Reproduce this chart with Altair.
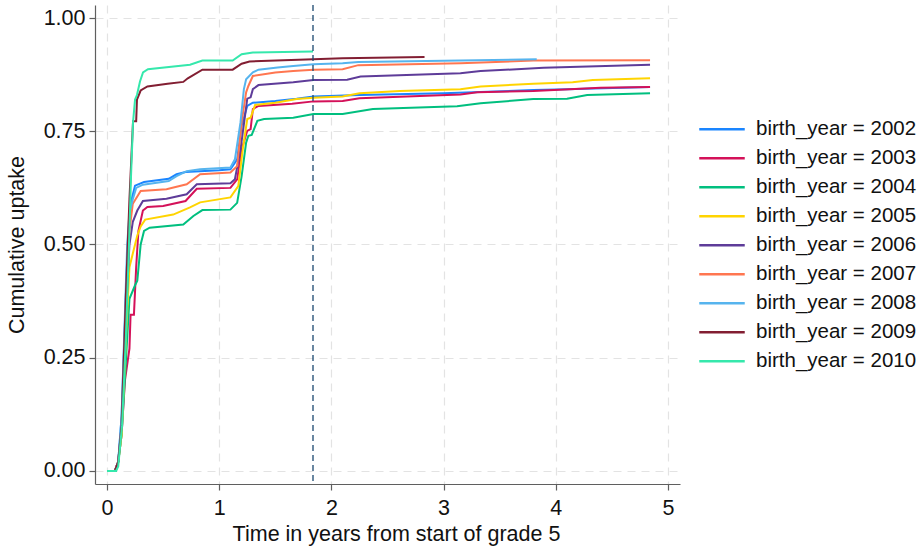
import altair as alt
import pandas as pd

years = [2002, 2003, 2004, 2005, 2006, 2007, 2008, 2009, 2010]
colors = ["#1a85ff", "#d41159", "#00bf7f", "#ffd400", "#5e3c99",
          "#ff7650", "#56b4ee", "#821e32", "#35e8ac"]

t_2002 = [0, 0.07, 0.10, 0.13, 0.16, 0.18, 0.20, 0.22, 0.25, 0.33, 0.55, 0.62, 0.70, 1.00, 1.10,
          1.16, 1.20, 1.25, 1.30, 1.50, 1.69, 1.84, 2.25, 3.00, 3.80, 4.10, 4.84]
u_2002 = [0, 0, 0.02, 0.12, 0.33, 0.47, 0.56, 0.60, 0.630, 0.638, 0.645, 0.655, 0.660, 0.664, 0.666,
          0.688, 0.762, 0.806, 0.813, 0.817, 0.822, 0.827, 0.830, 0.834, 0.841, 0.843, 0.848]

t_2003 = [0, 0.07, 0.10, 0.13, 0.16, 0.20, 0.21, 0.24, 0.26, 0.28, 0.32, 0.36, 0.50, 0.70, 0.80, 1.10,
          1.16, 1.20, 1.25, 1.28, 1.30, 1.35, 1.65, 1.84, 2.10, 2.25, 3.15, 3.30, 3.80, 4.40, 4.84]
u_2003 = [0, 0, 0.02, 0.08, 0.20, 0.27, 0.345, 0.345, 0.45, 0.53, 0.575, 0.583, 0.585, 0.596, 0.623, 0.625,
          0.644, 0.710, 0.751, 0.755, 0.799, 0.806, 0.811, 0.816, 0.817, 0.823, 0.831, 0.836, 0.839, 0.846, 0.848]

t_2004 = [0, 0.08, 0.10, 0.13, 0.17, 0.20, 0.25, 0.27, 0.30, 0.33, 0.38, 0.68, 0.77, 0.85, 1.10,
          1.16, 1.20, 1.24, 1.26, 1.29, 1.34, 1.40, 1.66, 1.84, 2.10, 2.37, 3.12, 3.33, 3.80, 4.10, 4.28, 4.84]
u_2004 = [0, 0, 0.02, 0.08, 0.25, 0.38, 0.41, 0.42, 0.50, 0.53, 0.537, 0.544, 0.563, 0.576, 0.577,
          0.592, 0.651, 0.725, 0.740, 0.742, 0.773, 0.777, 0.780, 0.788, 0.788, 0.799, 0.805, 0.812, 0.821, 0.822, 0.830, 0.834]

t_2005 = [0, 0.07, 0.10, 0.13, 0.17, 0.20, 0.24, 0.27, 0.30, 0.34, 0.59, 0.74, 0.83, 1.10,
          1.17, 1.21, 1.25, 1.28, 1.32, 1.50, 1.69, 1.84, 2.10, 2.25, 2.61, 3.15, 3.33, 3.80, 4.15, 4.33, 4.84]
u_2005 = [0, 0, 0.02, 0.08, 0.30, 0.45, 0.49, 0.52, 0.54, 0.555, 0.566, 0.582, 0.593, 0.604,
          0.629, 0.710, 0.777, 0.780, 0.808, 0.813, 0.821, 0.824, 0.827, 0.834, 0.839, 0.843, 0.849, 0.855, 0.858, 0.863, 0.867]

t_2006 = [0, 0.07, 0.10, 0.13, 0.17, 0.20, 0.23, 0.27, 0.32, 0.53, 0.71, 0.80, 1.10,
          1.14, 1.19, 1.23, 1.25, 1.28, 1.30, 1.35, 1.66, 1.84, 2.14, 2.26, 3.15, 3.33, 3.89, 4.84]
u_2006 = [0, 0, 0.02, 0.10, 0.35, 0.50, 0.55, 0.575, 0.596, 0.601, 0.611, 0.633, 0.635,
          0.644, 0.710, 0.784, 0.822, 0.825, 0.843, 0.852, 0.858, 0.863, 0.864, 0.871, 0.878, 0.883, 0.890, 0.897]

t_2007 = [0, 0.07, 0.10, 0.13, 0.17, 0.20, 0.23, 0.30, 0.53, 0.71, 0.83, 1.10,
          1.16, 1.20, 1.24, 1.26, 1.30, 1.50, 1.66, 1.84, 2.10, 2.24, 3.15, 3.80, 4.84]
u_2007 = [0, 0, 0.02, 0.10, 0.38, 0.53, 0.59, 0.618, 0.622, 0.633, 0.655, 0.659,
          0.673, 0.770, 0.836, 0.850, 0.872, 0.880, 0.883, 0.886, 0.887, 0.896, 0.900, 0.906, 0.907]

t_2008 = [0, 0.07, 0.10, 0.13, 0.16, 0.18, 0.20, 0.23, 0.26, 0.32, 0.55, 0.62, 0.71, 0.83, 1.10,
          1.14, 1.19, 1.22, 1.24, 1.30, 1.35, 1.52, 1.66, 1.84, 2.10, 2.24, 3.15, 3.83]
u_2008 = [0, 0, 0.02, 0.12, 0.35, 0.50, 0.57, 0.60, 0.625, 0.632, 0.640, 0.651, 0.662, 0.666, 0.670,
          0.688, 0.770, 0.843, 0.865, 0.880, 0.886, 0.891, 0.894, 0.898, 0.900, 0.903, 0.906, 0.909]

t_2009 = [0, 0.07, 0.10, 0.13, 0.17, 0.20, 0.232, 0.26, 0.267, 0.30, 0.36, 0.54, 0.68, 0.72, 0.85, 1.12,
          1.20, 1.27, 1.84, 2.10, 2.83]
u_2009 = [0, 0, 0.02, 0.10, 0.40, 0.60, 0.772, 0.772, 0.820, 0.840, 0.849, 0.855, 0.859, 0.867, 0.886, 0.886,
          0.899, 0.904, 0.909, 0.911, 0.914]

t_2010 = [0, 0.08, 0.10, 0.134, 0.169, 0.196, 0.214, 0.232, 0.25, 0.267, 0.294, 0.321, 0.365, 0.74, 0.85, 1.12,
          1.20, 1.30, 1.836]
u_2010 = [0, 0, 0.01, 0.10, 0.30, 0.50, 0.65, 0.77, 0.82, 0.83, 0.86, 0.88, 0.887, 0.897, 0.906, 0.906,
          0.920, 0.924, 0.926]

ref_line = [1.836]
y_ticks = [0, 0.25, 0.5, 0.75, 1.0]
x_ticks = [0, 1, 2, 3, 4, 5]

series_t = [t_2002, t_2003, t_2004, t_2005, t_2006, t_2007, t_2008, t_2009, t_2010]
series_u = [u_2002, u_2003, u_2004, u_2005, u_2006, u_2007, u_2008, u_2009, u_2010]

rows = []
for yr, ts, us in zip(years, series_t, series_u):
    for t, u in zip(ts, us):
        rows.append({"t": t, "u": u, "series": f"birth_year = {yr}"})
df = pd.DataFrame(rows)
labels = [f"birth_year = {yr}" for yr in years]

FONT = "Liberation Sans"

lines = alt.Chart(df).mark_line(strokeWidth=2, interpolate="linear").encode(
    x=alt.X("t:Q", scale=alt.Scale(domain=[-0.107, 5.107], nice=False, zero=False),
            axis=alt.Axis(values=x_ticks, format="d", title="Time in years from start of grade 5",
                          titlePadding=5, labelPadding=7, titleX=301)),
    y=alt.Y("u:Q", scale=alt.Scale(domain=[-0.0288, 1.0288], nice=False, zero=False),
            axis=alt.Axis(values=y_ticks, format=".2f", title="Cumulative uptake",
                          titlePadding=15, labelPadding=4)),
    color=alt.Color("series:N", scale=alt.Scale(domain=labels, range=colors),
                    legend=alt.Legend(orient="none", legendX=603, legendY=110, title=None,
                                      symbolType="stroke", symbolSize=2070,
                                      symbolStrokeWidth=2.5, labelFontSize=20.5, labelFont=FONT,
                                      labelOffset=10, rowPadding=0, clipHeight=28.5,
                                      labelLimit=400, labelColor="#111111")),
    order=alt.Order("t:Q"),
)

rule = alt.Chart(pd.DataFrame({"x": ref_line})).mark_rule(
    color="#1a476f", strokeDash=[6, 4], strokeWidth=1.3
).encode(x="x:Q")

chart = alt.layer(lines, rule).properties(
    width=585, height=479,
    autosize=alt.AutoSizeParams(type="none"),
    padding={"left": 95, "top": 5, "right": 241, "bottom": 63},
).configure_view(stroke=None).configure_axis(
    labelFont=FONT, titleFont=FONT, labelFontSize=21.5, titleFontSize=21.5,
    titleFontWeight="normal", labelColor="#111111", titleColor="#111111",
    domainColor="#5f5f5f", tickColor="#5f5f5f", domainWidth=1.2, tickWidth=1.2,
    tickSize=6,
    gridColor="#e3e3e3", gridDash=[8, 6], gridWidth=1.2,
)

chart.save("out.html", embed_options={"renderer": "svg", "actions": False})
